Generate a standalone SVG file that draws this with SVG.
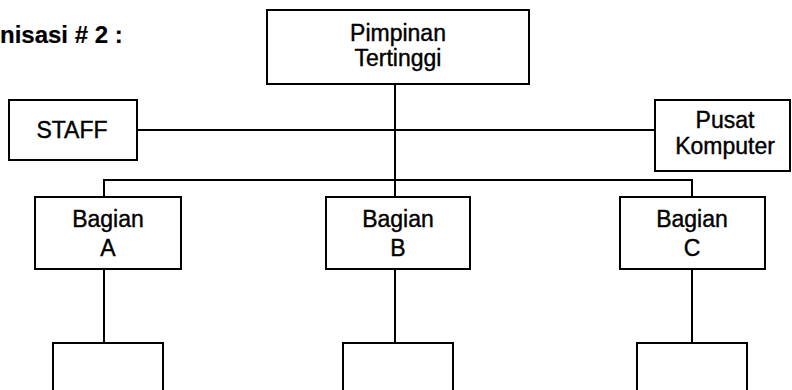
<svg xmlns="http://www.w3.org/2000/svg" width="792" height="390" viewBox="0 0 792 390">
<style>
.box{fill:#fff;stroke:#000;stroke-width:2}
.ln{fill:none;stroke:#000;stroke-width:2}
text{font-family:"Liberation Sans",Arial,Helvetica,sans-serif;font-size:23px;fill:#000;stroke:#000;stroke-width:0.4;text-anchor:middle}
.title{font-weight:bold;text-anchor:start;font-size:24px;stroke-width:0.2}
</style>
<rect width="792" height="390" fill="#fff"/>
<text class="title" x="0" y="43">nisasi # 2 :</text>
<g id="connectors">
<path class="ln" d="M395,84 V197"/>
<path class="ln" d="M137,130 H655"/>
<path class="ln" d="M104,197 V180 H692 V197"/>
<path class="ln" d="M104,269 V343"/>
<path class="ln" d="M395,269 V343"/>
<path class="ln" d="M692,269 V343"/>
</g>
<g id="pimpinan">
<rect class="box" x="267" y="10" width="262" height="74"/>
<text x="398" y="41">Pimpinan</text>
<text x="398" y="66">Tertinggi</text>
</g>
<g id="staff">
<rect class="box" x="9" y="100" width="128" height="60"/>
<text x="72" y="138">STAFF</text>
</g>
<g id="pusat">
<rect class="box" x="655" y="100" width="135" height="71"/>
<text x="725" y="128">Pusat</text>
<text x="725" y="154">Komputer</text>
</g>
<g id="bagianA">
<rect class="box" x="35" y="197" width="146" height="72"/>
<text x="108" y="227">Bagian</text>
<text x="108" y="256">A</text>
</g>
<g id="bagianB">
<rect class="box" x="326" y="197" width="144" height="72"/>
<text x="398" y="227">Bagian</text>
<text x="398" y="256">B</text>
</g>
<g id="bagianC">
<rect class="box" x="620" y="197" width="145" height="72"/>
<text x="692" y="227">Bagian</text>
<text x="692" y="256">C</text>
</g>
<g id="subA"><path class="ln" d="M53,391 V343 H163 V391"/></g>
<g id="subB"><path class="ln" d="M343,391 V343 H453 V391"/></g>
<g id="subC"><path class="ln" d="M637,391 V343 H747 V391"/></g>
</svg>
